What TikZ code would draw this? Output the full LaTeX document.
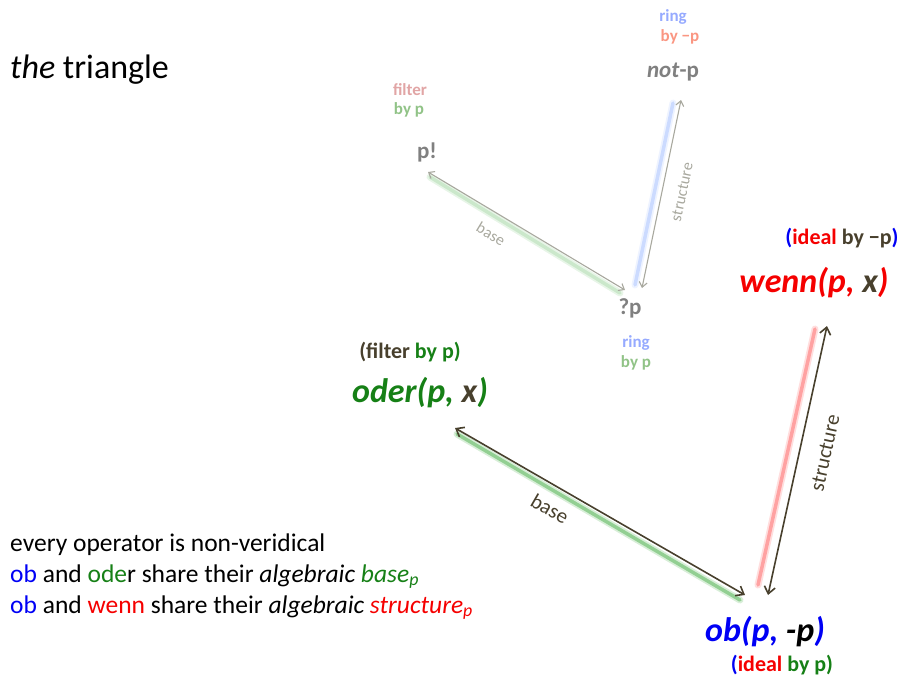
\documentclass[tikz,border=0pt]{standalone}
\usepackage{fontspec}
\setmainfont{Carlito}
\usepackage{tikz}
\usetikzlibrary{arrows.meta}
\usepackage{xcolor}
\definecolor{oliveink}{RGB}{72,64,45}
\definecolor{opgreen}{RGB}{22,128,22}
\definecolor{opred}{RGB}{245,0,0}
\definecolor{opblue}{RGB}{0,0,245}
\definecolor{fadegray}{RGB}{128,128,128}
\definecolor{fadearrow}{RGB}{168,168,158}
\definecolor{fadeblue}{RGB}{150,170,255}
\definecolor{fadesalmon}{RGB}{250,150,130}
\definecolor{fadepink}{RGB}{225,165,165}
\definecolor{fadegreen}{RGB}{145,195,135}
\definecolor{glowgreen}{RGB}{60,170,60}
\definecolor{glowred}{RGB}{255,90,90}
\definecolor{glowblue}{RGB}{140,175,255}
\tikzset{
  titletext/.style={font=\fontsize{34}{38}\selectfont, inner sep=0pt},
  notetext/.style={font=\fontsize{25.5}{29}\selectfont, inner sep=0pt, anchor=base west},
  opname/.style={font=\fontsize{34}{38}\selectfont\bfseries\itshape, inner sep=0pt},
  optag/.style={font=\fontsize{22}{26}\selectfont\bfseries, inner sep=0pt},
  faintop/.style={font=\fontsize{23}{27}\selectfont\bfseries, text=fadegray, inner sep=0pt},
  fainttag/.style={font=\fontsize{17}{20}\selectfont\bfseries, inner sep=0pt},
  twoway/.style={{Straight Barb[length=7pt,width=11pt]}-{Straight Barb[length=7pt,width=11pt]}, line width=1.6pt, oliveink},
  twowayfaint/.style={{Straight Barb[length=5pt,width=8pt]}-{Straight Barb[length=5pt,width=8pt]}, line width=1.1pt, fadearrow},
  glowwide/.style={line width=7pt, opacity=0.2, line cap=round},
  glowcore/.style={line width=3.5pt, opacity=0.45, line cap=round},
  edgelbl/.style={font=\fontsize{21}{24}\selectfont, text=oliveink, inner sep=0pt},
  faintlbl/.style={font=\fontsize{16}{19}\selectfont, text=fadearrow, inner sep=0pt},
}
\begin{document}
\begin{tikzpicture}[x=1pt,y=-1pt]
\useasboundingbox (0,0) rectangle (911,686);

\node[titletext, anchor=base west] (title) at (10,78) {\textit{the} triangle};

% faded triangle
\node[fainttag, text=fadeblue] (ringneg) at (673,17) {ring};
\node[fainttag, text=fadesalmon] (byneg) at (680,37) {by −p};
\node[faintop] (notp) at (673,72) {\textit{not}-p};
\node[fainttag, text=fadepink] (filterp) at (410,90) {filter};
\node[fainttag, text=fadegreen] (byp) at (409,110) {by p};
\node[faintop] (pbang) at (427,152) {p!};
\node[faintop] (qp) at (630,308) {?p};
\node[fainttag, text=fadeblue] (ringp) at (636,343) {ring};
\node[fainttag, text=fadegreen] (ringbyp) at (636,363) {by p};

\coordinate (fbase-a) at (428,172);
\coordinate (fbase-b) at (625,290);
\coordinate (fstruct-a) at (642,288);
\coordinate (fstruct-b) at (681,100);

\draw[glowwide, glowgreen, opacity=0.12] ([shift={(2,5)}]fbase-a) -- ([shift={(-5,3)}]fbase-b);
\draw[glowcore, glowgreen!60, opacity=0.3] ([shift={(2,5)}]fbase-a) -- ([shift={(-5,3)}]fbase-b);
\draw[glowwide, glowblue, opacity=0.15] ([shift={(-7,-3)}]fstruct-a) -- ([shift={(-8,3)}]fstruct-b);
\draw[glowcore, glowblue, opacity=0.35] ([shift={(-7,-3)}]fstruct-a) -- ([shift={(-8,3)}]fstruct-b);
\draw[twowayfaint] (fbase-a) -- (fbase-b);
\draw[twowayfaint] (fstruct-a) -- (fstruct-b);
\node[faintlbl, rotate=-31] (fbaselbl) at (491,234) {base};
\node[faintlbl, rotate=78] (fstructlbl) at (682,192) {structure};

% main triangle
\node[optag] (odertag) at (410,352) {\textcolor{oliveink}{(filter} \textcolor{opgreen}{by p)}};
\node[opname] (oder) at (420,393) {\textcolor{opgreen}{oder(p,} \textcolor{oliveink}{x}\textcolor{opgreen}{)}};
\node[optag] (wenntag) at (842,238) {\textcolor{opblue}{(}\textcolor{opred}{ideal} \textcolor{oliveink}{by −p}\textcolor{opblue}{)}};
\node[opname] (wenn) at (814,283) {\textcolor{opred}{wenn(p,} \textcolor{oliveink}{x}\textcolor{opred}{)}};
\node[opname] (ob) at (765,632) {\textcolor{opblue}{ob(p,} \textcolor{black}{-p}\textcolor{opblue}{)}};
\node[optag] (obtag) at (782,665) {\textcolor{opblue}{(}\textcolor{opred}{ideal} \textcolor{opgreen}{by p)}};

\coordinate (base-a) at (455,428);
\coordinate (base-b) at (745,595);
\coordinate (struct-a) at (768,595);
\coordinate (struct-b) at (827,326);

\draw[glowwide, glowgreen] ([shift={(2,6)}]base-a) -- ([shift={(-5,5)}]base-b);
\draw[glowcore, glowgreen] ([shift={(2,6)}]base-a) -- ([shift={(-5,5)}]base-b);
\draw[glowwide, glowred] ([shift={(-10,-10)}]struct-a) -- ([shift={(-12,3)}]struct-b);
\draw[glowcore, glowred] ([shift={(-10,-10)}]struct-a) -- ([shift={(-12,3)}]struct-b);
\draw[twoway] (base-a) -- (base-b);
\draw[twoway] (struct-a) -- (struct-b);
\node[edgelbl, rotate=-30] (baselbl) at (550,509) {base};
\node[edgelbl, rotate=77.6] (structlbl) at (825,453) {structure};

% note
\node[notetext] (note1) at (10,551) {every operator is non-veridical};
\node[notetext] (note2) at (10,582) {\textcolor{opblue}{ob} and \textcolor{opgreen}{ode}r share their \textit{algebraic} \textcolor{opgreen}{\textit{base}\textsubscript{\textit{p}}}};
\node[notetext] (note3) at (10,613) {\textcolor{opblue}{ob} and \textcolor{opred}{wenn} share their \textit{algebraic} \textcolor{opred}{\textit{structure}\textsubscript{\textit{p}}}};
\end{tikzpicture}
\end{document}
